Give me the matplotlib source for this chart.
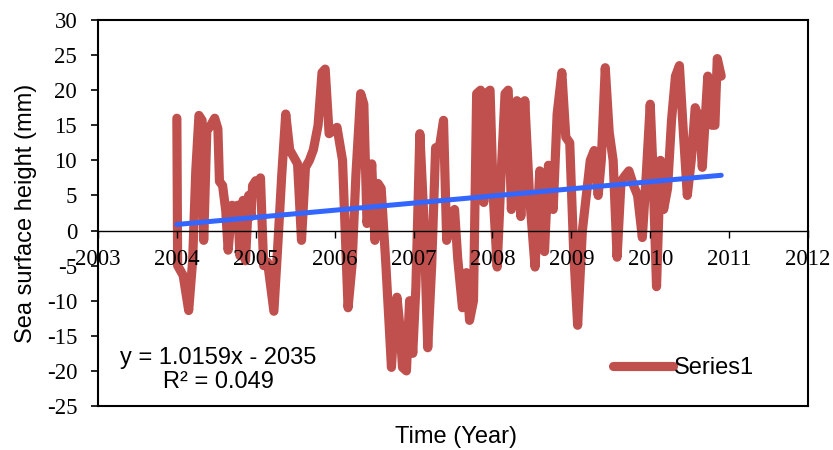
import matplotlib
matplotlib.use("Agg")
import matplotlib.pyplot as plt
import numpy as np

plt.rcParams["axes.unicode_minus"] = False

# sea surface height series (decimal year, mm)
time_yr = [
    2004.00, 2004.01, 2004.08, 2004.15, 2004.20, 2004.24, 2004.28, 2004.32, 2004.34, 2004.38,
    2004.43, 2004.48, 2004.52, 2004.54, 2004.58, 2004.62, 2004.65, 2004.70, 2004.75, 2004.77,
    2004.80, 2004.84, 2004.87, 2004.91, 2004.94, 2004.96, 2005.00, 2005.03,
    2005.06, 2005.10, 2005.15, 2005.23, 2005.28, 2005.33, 2005.38, 2005.43, 2005.48, 2005.53,
    2005.58, 2005.63, 2005.68, 2005.73, 2005.79, 2005.84, 2005.88, 2005.93,
    2006.03, 2006.10, 2006.17, 2006.22, 2006.27, 2006.33, 2006.37, 2006.41, 2006.43, 2006.47,
    2006.51, 2006.55, 2006.59, 2006.65, 2006.72, 2006.76, 2006.79, 2006.83, 2006.86, 2006.91,
    2006.95, 2006.99,
    2007.03, 2007.08, 2007.13, 2007.18, 2007.23, 2007.28, 2007.33, 2007.38, 2007.42, 2007.47,
    2007.52, 2007.56, 2007.62, 2007.67, 2007.71, 2007.76, 2007.80, 2007.85, 2007.89, 2007.92,
    2007.97,
    2008.01, 2008.06, 2008.11, 2008.16, 2008.20, 2008.24, 2008.31, 2008.36, 2008.41, 2008.47,
    2008.54, 2008.60, 2008.66, 2008.71, 2008.77, 2008.82, 2008.88, 2008.93, 2008.98,
    2009.03, 2009.08, 2009.14, 2009.19, 2009.24, 2009.29, 2009.34, 2009.38, 2009.43, 2009.48,
    2009.53, 2009.58, 2009.63, 2009.68, 2009.73, 2009.79, 2009.84, 2009.90, 2009.95,
    2010.00, 2010.03, 2010.08, 2010.13, 2010.17, 2010.22, 2010.27, 2010.32, 2010.37, 2010.42,
    2010.47, 2010.52, 2010.57, 2010.62, 2010.66, 2010.73, 2010.78, 2010.82, 2010.85, 2010.90,
]
ssh_mm = [
    16, -5, -6.4, -11.4, -4.3, 8.5, 16.4, 15.7, -1.4, 14.2,
    15, 16, 14.5, 7, 6.4, 2.8, -2.8, 3.6, 2.1, 3.6,
    -3.6, 4.3, -4.3, 5, 2, 6.4, 7.1, 5.7,
    7.5, -5, -4.5, -11.5, -2, 8, 16.6, 11.5, 10.5, 9.5,
    -1.4, 9, 10, 11.5, 15, 22.5, 23, 13.8,
    14.7, 10, -11, -5, 8, 19.5, 18, 1, 3, 9.5,
    -1.4, 6.7, 6, -5, -19.5, -12, -9.5, -14, -19.5, -20,
    -10, -17.5,
    -8, 13.8, 2, -16.7, -5, 11.8, 12, 15.7, -1.4, 2,
    3, -4, -11, -6, -12.8, -10, 19.5, 20, 4, 19.5,
    20,
    5, -5.2, 8, 19.5, 20, 3, 18.5, 2, 18.5, 5,
    -5.2, 8.5, -3, 9.3, 3, 16.6, 22.5, 13.3, 12.5,
    -3, -13.5, 0, 5, 10, 11.4, 5, 10, 23.2, 14,
    10, -3.8, 7, 7.8, 8.5, 6.4, 5, -1, 8,
    18, 10, -8, 10, 3, 6, 15.7, 22, 23.5, 14,
    5, 10, 17.5, 16, 9, 22, 15, 15, 24.5, 22,
]

# linear trend as printed on the chart
trend_slope = 1.0159
trend_intercept = -2035
trend_r2 = 0.049

year_ticks = list(range(2003, 2013))
ssh_ticks = list(range(-25, 31, 5))

label_font = "Liberation Sans"
tick_font = "Liberation Serif"

fig = plt.figure(figsize=(8.33, 4.5), dpi=100)
ax = fig.add_axes([0.1176, 0.0978, 0.8524, 0.8578])
ax.set_axisbelow(False)

ax.plot(time_yr, ssh_mm, color="#C0504D", lw=6.6, solid_joinstyle="round",
        solid_capstyle="round", label="Series1", zorder=2)

tx = np.array([time_yr[0], time_yr[-1]])
ax.plot(tx, trend_slope * tx + trend_intercept, color="#3366FF", lw=3.6,
        solid_capstyle="round", zorder=3)

ax.set_xlim(2003, 2012)
ax.set_ylim(-25, 30)
ax.set_xticks(year_ticks)
ax.set_yticks(ssh_ticks)

# x axis crosses at zero, keep a frame around the plot area
ax.spines["bottom"].set_position(("data", 0))
ax.spines["bottom"].set_linewidth(1.0)
for s in ["left", "top", "right"]:
    ax.spines[s].set_linewidth(1.5)
ax.plot([0, 1], [0, 0], transform=ax.transAxes, color="k", lw=1.5,
        clip_on=False, zorder=5)

ax.tick_params(axis="y", direction="out", length=5, width=1.2, pad=10)
ax.tick_params(axis="x", direction="out", length=5, width=1.0, pad=8)
for lab in ax.get_xticklabels() + ax.get_yticklabels():
    lab.set_fontfamily(tick_font)
    lab.set_fontsize(16.5)

ax.set_ylabel("Sea surface height (mm)", fontsize=17, fontfamily=label_font)
ax.yaxis.label.set_va("center")
ax.yaxis.set_label_coords(-0.101, 0.5)
ax.set_xlabel("Time (Year)", fontsize=17, fontfamily=label_font)
ax.xaxis.set_label_coords(0.504, -0.08)
ax.xaxis.label.set_va("center")

ax.text(0.169, 0.093, f"y = {trend_slope}x - {abs(trend_intercept)}\nR² = {trend_r2}",
        transform=ax.transAxes, ha="center", va="center", multialignment="center",
        fontsize=17, fontfamily=label_font, linespacing=1.1)

leg = ax.legend(loc="center left", bbox_to_anchor=(0.7254, 0.0984), frameon=False,
                prop={"family": label_font, "size": 17}, handlelength=2.54,
                handletextpad=0.05, borderpad=0, borderaxespad=0)

fig.savefig("out.png", dpi=100)
